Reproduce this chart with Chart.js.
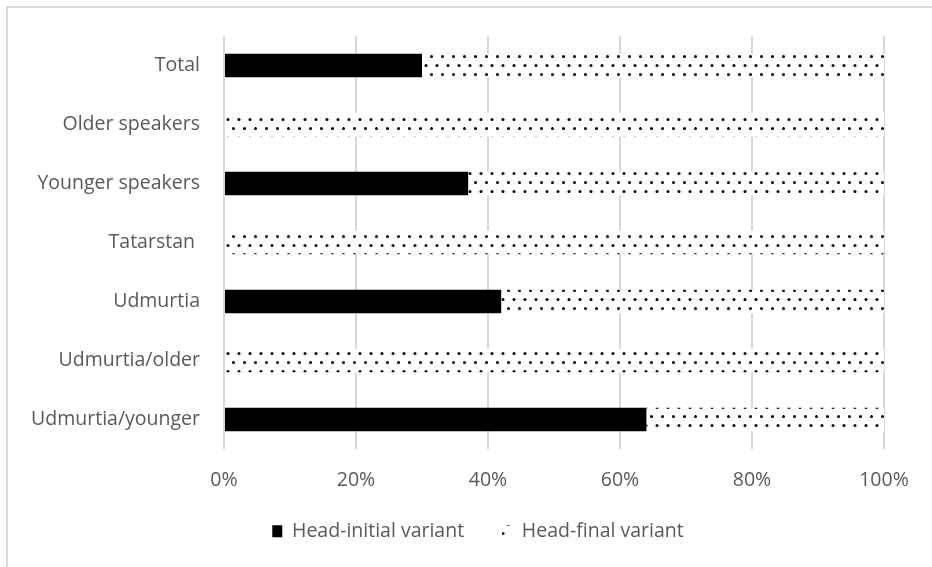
<!DOCTYPE html>
<html>
<head>
<meta charset="utf-8">
<script src="https://cdn.jsdelivr.net/npm/chart.js@4"></script>
<style>
  html, body { margin: 0; padding: 0; background: #fff; }
  #wrap { position: relative; width: 932px; height: 567px; overflow: hidden; }
  #frame { position: absolute; left: 6px; top: 6px; width: 1000px; height: 700px;
           border-top: 2px solid #d9d9d9; border-left: 2px solid #d9d9d9; box-sizing: border-box; }
  #chart { position: absolute; left: 0; top: 0; }
</style>
</head>
<body>
<div id="wrap">
  <div id="frame"></div>
  <canvas id="chart" width="932" height="567"></canvas>
</div>
<script>
// Word-order variants by speaker group (share of responses)
const groups = ['Total', 'Older speakers', 'Younger speakers', 'Tatarstan ', 'Udmurtia', 'Udmurtia/older', 'Udmurtia/younger'];
const headInitial = [0.30, 0, 0.37, 0, 0.42, 0, 0.64];
const headFinal = [0.70, 1, 0.63, 1, 0.58, 1, 0.36];
const seriesNames = ['Head-initial variant', 'Head-final variant'];
const tickValues = [0, 0.2, 0.4, 0.6, 0.8, 1];

// Staggered dot fill used for the head-final bars
function dotPattern() {
  const c = document.createElement('canvas');
  c.width = 11; c.height = 18;
  const g = c.getContext('2d');
  g.fillStyle = '#ffffff';
  g.fillRect(0, 0, 11, 18);
  g.fillStyle = '#000000';
  g.beginPath(); g.arc(2.5, 2.5, 1.5, 0, Math.PI * 2); g.fill();
  g.beginPath(); g.arc(8, 11.5, 1.5, 0, Math.PI * 2); g.fill();
  return g.createPattern(c, 'repeat');
}

const FONT = '"Open Sans", Lato, sans-serif';
const TEXT = '#595959';
const LEGEND_GAP = 38;

// Moves the legend row under the middle of the figure
const legendShift = {
  id: 'legendShift',
  afterLayout(chart) {
    const lg = chart.legend;
    if (!lg) return;
    lg.left += 36; lg.right += 36;
    lg.top -= 16; lg.bottom -= 16;
  }
};

new Chart(document.getElementById('chart'), {
  type: 'bar',
  data: {
    labels: groups,
    datasets: [
      { label: seriesNames[0], data: headInitial, backgroundColor: '#000000',
        borderColor: '#000000', borderWidth: 0, barPercentage: 0.4, categoryPercentage: 1 },
      { label: seriesNames[1], data: headFinal, backgroundColor: dotPattern(),
        borderWidth: 0, barPercentage: 0.4, categoryPercentage: 1 }
    ]
  },
  plugins: [legendShift],
  options: {
    indexAxis: 'y',
    responsive: false,
    animation: false,
    layout: { padding: { left: 0, right: 48, top: 36, bottom: 0 } },
    scales: {
      x: {
        stacked: true,
        min: 0, max: 1,
        afterBuildTicks: (s) => { s.ticks = tickValues.map(v => ({ value: v })); },
        afterFit: (s) => { s.height = 50.5; },
        grid: { color: '#d9d9d9', lineWidth: 2, drawTicks: false },
        border: { display: false },
        ticks: {
          padding: 20,
          color: TEXT,
          font: { family: FONT, size: 19.5 },
          callback: (v) => Math.round(v * 100) + '%'
        }
      },
      y: {
        stacked: true,
        afterFit: (s) => { s.width = 224; },
        grid: { display: false, drawTicks: false },
        border: { display: false },
        ticks: { padding: 24, color: TEXT, font: { family: FONT, size: 19.5 } }
      }
    },
    plugins: {
      legend: {
        position: 'bottom',
        labels: {
          boxWidth: 10, boxHeight: 12, padding: LEGEND_GAP,
          color: TEXT,
          font: { family: FONT, size: 19.5 }
        }
      },
      tooltip: { enabled: false }
    }
  }
});
</script>
</body>
</html>
